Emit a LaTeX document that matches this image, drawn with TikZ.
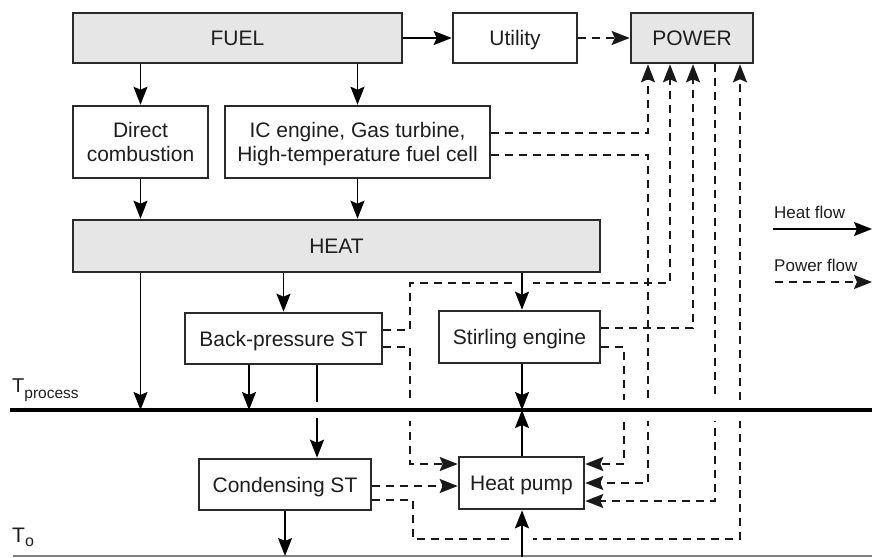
\documentclass[tikz,border=0pt]{standalone}
\usepackage{fontspec}
\setmainfont{Liberation Sans}
\usetikzlibrary{arrows.meta}
\definecolor{boxline}{HTML}{2A2A2A}
\definecolor{boxfill}{HTML}{E6E6E6}
\definecolor{ink}{HTML}{1E1E1E}
\begin{document}
\begin{tikzpicture}[x=1pt,y=-1pt,
  tip/.style={-{Stealth[length=18pt,width=14pt,inset=3pt]}},
  box/.style={draw=boxline, line width=2.6pt, fill=white, inner sep=0pt,
    text=ink, align=center, text depth=0pt, font=\fontsize{21}{24}\selectfont},
  graybox/.style={box, fill=boxfill},
  heatline/.style={line width=1.8pt, draw=black},
  heatflow/.style={heatline, tip},
  powerline/.style={line width=1.7pt, draw=black!90, dash pattern=on 8pt off 6pt},
  powerflow/.style={powerline, tip},
  legendtext/.style={anchor=base west, inner sep=0pt, text=ink, font=\fontsize{17}{20}\selectfont},
]
\useasboundingbox (0,0) rectangle (872,557);

% boxes
\node[graybox, minimum width=329pt, minimum height=50pt] (fuel) at (237.5,38) {FUEL};
\node[box, minimum width=124pt, minimum height=50pt] (util) at (515,38) {Utility};
\node[graybox, minimum width=122pt, minimum height=50pt] (power) at (692,38) {POWER};
\node[box, minimum width=135pt, minimum height=72pt] (direct) at (140.5,142) {Direct\\combustion};
\node[box, minimum width=265pt, minimum height=72pt] (ic) at (357.5,142) {IC engine, Gas turbine,\\High-temperature fuel cell};
\node[graybox, minimum width=527pt, minimum height=52pt] (heat) at (336.5,246) {HEAT};
\node[box, minimum width=197pt, minimum height=51pt] (bp) at (283.5,338.5) {Back-pressure ST};
\node[box, minimum width=161pt, minimum height=52pt] (stir) at (519.5,337) {Stirling engine};
\node[box, minimum width=172pt, minimum height=51pt] (cond) at (285,484.5) {Condensing ST};
\node[box, minimum width=125pt, minimum height=52pt] (hp) at (521.5,483) {Heat pump};

% temperature levels and helper coordinates
\coordinate (tpL) at (10,410);  \coordinate (tpR) at (872,410);
\coordinate (t0L) at (13,556);  \coordinate (t0R) at (872,556);
\coordinate (tpU) at (0,402);   \coordinate (tpD) at (0,418);
\coordinate (bot) at (0,557);
\coordinate (xh) at (522,0);    \coordinate (bpx) at (317,0);
\coordinate (xa) at (648,0);    \coordinate (xb) at (670,0);
\coordinate (xc) at (693,0);    \coordinate (xd) at (715,0);
\coordinate (xe) at (740,0);    \coordinate (xs) at (624,0);
\coordinate (xl) at (410,0);    \coordinate (xm) at (413,0);
\coordinate (ya) at (0,283);    \coordinate (yb) at (0,539);
\coordinate (hpL1) at ([yshift=19]hp.west);
\coordinate (hpR1) at ([yshift=19]hp.east);

% power flows
\draw[powerflow] (util) -- (power);
\draw[powerflow] ([yshift=9]ic.east) -| (xa |- power.south);
\draw[powerflow] ([yshift=-13]ic.east) -| (xa |- hp.east) -- (hp.east);
\draw[powerflow] ([yshift=8.5]bp.east) -| (xl |- ya) -| (xb |- power.south);
\draw[powerflow] ([yshift=-8.5]bp.east) -| (xl |- hpL1) -- (hpL1);
\draw[powerflow] ([yshift=-1.5]cond.east) -- ([yshift=-3]hp.west);
\draw[powerflow] ([yshift=-15.5]cond.east) -| (xm |- yb) -| (xe |- power.south);
\draw[powerflow] ([yshift=9]stir.east) -| (xc |- power.south);
\draw[powerflow] ([yshift=-10]stir.east) -| (xs |- hpR1) -- (hpR1);
\draw[powerflow] (xd |- power.south) |- ([yshift=-18]hp.east);

% breaks where power lines cross heat lines
\fill[white] (400,400) rectangle (752,421);
\fill[white] (512,278) rectangle (533,288);
\fill[white] (512,534) rectangle (533,544);

% temperature level lines
\draw[line width=3.4pt, draw=black] (tpL) -- (tpR);
\draw[line width=1.8pt, draw=black!50] (t0L) -- (t0R);
\node[anchor=base west, inner sep=0pt, text=ink, font=\fontsize{20}{20}\selectfont] (tproc) at (12,392)
  {T\raisebox{-6pt}{\fontsize{15.5}{15.5}\selectfont process}};
\node[anchor=base west, inner sep=0pt, text=ink, font=\fontsize{21}{21}\selectfont] (tzero) at (12,542)
  {T\raisebox{-4.5pt}{\fontsize{16}{16}\selectfont o}};

% heat flows
\draw[heatflow] (fuel) -- (util);
\draw[heatflow] (fuel.south -| direct.north) -- (direct.north);
\draw[heatflow] (fuel.south -| ic.north) -- (ic.north);
\draw[heatflow] (direct.south) -- (direct.south |- heat.north);
\draw[heatflow] (ic.south) -- (ic.south |- heat.north);
\draw[heatflow] (heat.south -| direct.south) -- (direct.south |- tpL);
\draw[heatflow] (heat.south -| bp.north) -- (bp.north);
\draw[heatflow] (heat.south -| xh) -- (xh |- stir.north);
\draw[heatflow] ([xshift=-34.5]bp.south) -- ([xshift=-34.5]bp.south |- tpL);
\draw[heatline] (bpx |- bp.south) -- (bpx |- tpU);
\draw[heatflow] (bpx |- tpD) -- (bpx |- cond.north);
\draw[heatflow] (cond.south) -- (cond.south |- t0L);
\draw[heatflow] (xh |- stir.south) -- (xh |- tpL);
\draw[heatflow] (xh |- hp.north) -- (xh |- tpL);
\draw[heatflow] (xh |- bot) -- (xh |- hp.south);

% legend
\node[legendtext] (lheat) at (774,218) {Heat flow};
\coordinate (lh1) at (773,229); \coordinate (lh2) at (872,229);
\draw[heatflow] (lh1) -- (lh2);
\node[legendtext] (lpow) at (774,271) {Power flow};
\coordinate (lp1) at (775,282); \coordinate (lp2) at (872,282);
\draw[powerflow] (lp1) -- (lp2);
\end{tikzpicture}
\end{document}
